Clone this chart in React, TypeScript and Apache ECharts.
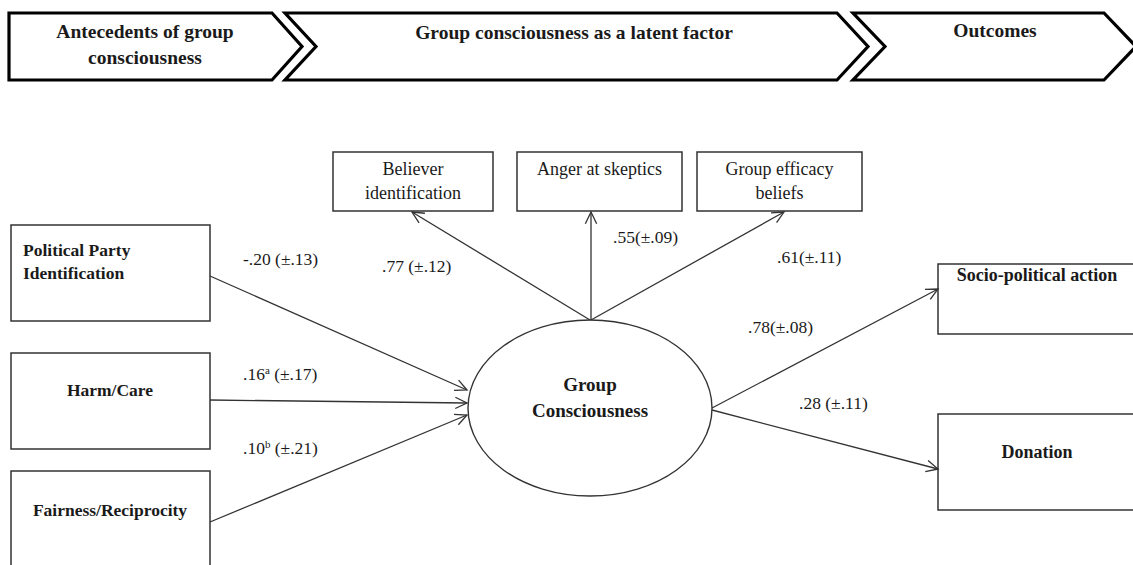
import React, { useEffect, useRef } from "react";
import * as echarts from "echarts";

const WIDTH = 1133;
const HEIGHT = 565;
const FONT = "Liberation Serif";

// ---------- content ----------
const stageTitles = ["Antecedents of group\nconsciousness", "Group consciousness as a latent factor", "Outcomes"];
const antecedentNames = ["Political Party\nIdentification", "Harm/Care", "Fairness/Reciprocity"];
const indicatorNames = ["Believer\nidentification", "Anger at skeptics", "Group efficacy\nbeliefs"];
const latentName = "Group\nConsciousness";
const outcomeNames = ["Socio-political action", "Donation"];
const antecedentBetas = ["-.20", ".16", ".10"];
const antecedentNotes = ["", "a", "b"];
const antecedentCIs = [" (±.13)", " (±.17)", " (±.21)"];
const loadingLabels = [".77 (±.12)", ".55(±.09)", ".61(±.11)"];
const outcomeLabels = [".78(±.08)", ".28 (±.11)"];

// ---------- layout (pixel-like data units on hidden axes) ----------
const stagePolygons = [
  [[9, 13], [272, 13], [302, 46.5], [272, 80], [9, 80]],
  [[285, 13], [837, 13], [868, 46.5], [837, 80], [285, 80], [316, 46.5]],
  [[853, 13], [1104, 13], [1136, 46.5], [1104, 80], [853, 80], [885, 46.5]],
];
const stageTextPos = [[145, 31], [574, 32], [995, 30]];

const antecedentRects = [[11, 225, 199, 96], [11, 353, 199, 96], [11, 471, 199, 130]];
const antecedentTextPos = [[23, 250, "left"], [110, 390, "center"], [110, 510, "center"]];
const indicatorRects = [[333, 152, 160, 59], [517, 152, 165, 59], [697, 152, 165, 59]];
const indicatorTextPos = [[413, 169], [599.5, 169], [779.5, 169]];
const outcomeRects = [[938, 264, 215, 70], [938, 414, 215, 96]];
const outcomeTextPos = [[1037, 275], [1037, 452]];
const latentEllipse = [590, 408, 122, 88];
const latentTextPos = [590, 384];

const antecedentPaths = [[[210, 276], [467, 390]], [[210, 400], [467, 403]], [[210, 522], [467, 415]]];
const loadingPaths = [[[590, 320], [412, 212]], [[591, 320], [591, 212]], [[591, 320], [784, 212]]];
const outcomePaths = [[[712, 408], [938, 289]], [[712, 410], [938, 469]]];
const antecedentLabelPos = [[243, 259], [243, 374], [243, 448]];
const loadingLabelPos = [[382, 266], [613, 237], [777, 257]];
const outcomeLabelPos = [[748, 327], [799, 403]];

const INK = "#1a1a1a";
const LINE = "#333";

function textEl(api: any, pos: number[], text: string, opts: any) {
  const lh = opts.lineHeight;
  const n = text.split("\n").length;
  const p = api.coord([pos[0], pos[1] + ((n - 1) * lh) / 2]);
  return {
    type: "text",
    x: p[0],
    y: p[1],
    style: {
      text,
      fontFamily: FONT,
      fontSize: opts.fontSize,
      fontWeight: opts.fontWeight || "normal",
      fill: INK,
      align: opts.align || "center",
      verticalAlign: "middle",
      lineHeight: lh,
    },
  };
}

function rectEl(api: any, r: number[]) {
  const p = api.coord([r[0], r[1]]);
  const s = api.size([r[2], r[3]]);
  return {
    type: "rect",
    shape: { x: p[0], y: p[1], width: s[0], height: s[1] },
    style: { fill: "#fff", stroke: LINE, lineWidth: 1.5 },
  };
}

function arrowEls(api: any, path: number[][]) {
  const a = api.coord(path[0]);
  const b = api.coord(path[1]);
  const ang = Math.atan2(b[1] - a[1], b[0] - a[0]);
  const L = 13;
  const th = 0.45;
  const p1 = [b[0] - L * Math.cos(ang - th), b[1] - L * Math.sin(ang - th)];
  const p2 = [b[0] - L * Math.cos(ang + th), b[1] - L * Math.sin(ang + th)];
  return [
    { type: "line", shape: { x1: a[0], y1: a[1], x2: b[0], y2: b[1] }, style: { stroke: LINE, lineWidth: 1.3 } },
    { type: "polyline", shape: { points: [p1, b, p2] }, style: { stroke: LINE, lineWidth: 1.3, fill: "none" } },
  ];
}

function buildOption() {
  const stageSeries = {
    type: "custom",
    name: "stages",
    data: stageTitles.map((_, i) => [i, 0]),
    renderItem: (params: any, api: any) => {
      const i = params.dataIndex;
      const pts = stagePolygons[i].map((q) => api.coord(q));
      return {
        type: "group",
        children: [
          { type: "polygon", shape: { points: pts }, style: { fill: "#fff", stroke: "#000", lineWidth: 3.2, lineJoin: "miter" } },
          textEl(api, stageTextPos[i], stageTitles[i], { fontSize: 19.5, fontWeight: "bold", lineHeight: 26 }),
        ],
      };
    },
  };

  const antecedentSeries = {
    type: "custom",
    name: "antecedents",
    data: antecedentNames.map((_, i) => [i, 0]),
    renderItem: (params: any, api: any) => {
      const i = params.dataIndex;
      const tp = antecedentTextPos[i] as any[];
      return {
        type: "group",
        children: [
          rectEl(api, antecedentRects[i]),
          textEl(api, [tp[0], tp[1]], antecedentNames[i], { fontSize: 17.5, fontWeight: "bold", lineHeight: 23, align: tp[2] }),
        ],
      };
    },
  };

  const indicatorSeries = {
    type: "custom",
    name: "indicators",
    data: indicatorNames.map((_, i) => [i, 0]),
    renderItem: (params: any, api: any) => {
      const i = params.dataIndex;
      return {
        type: "group",
        children: [
          rectEl(api, indicatorRects[i]),
          textEl(api, indicatorTextPos[i], indicatorNames[i], { fontSize: 18, lineHeight: 24 }),
        ],
      };
    },
  };

  const outcomeSeries = {
    type: "custom",
    name: "outcomes",
    data: outcomeNames.map((_, i) => [i, 0]),
    renderItem: (params: any, api: any) => {
      const i = params.dataIndex;
      return {
        type: "group",
        children: [
          rectEl(api, outcomeRects[i]),
          textEl(api, outcomeTextPos[i], outcomeNames[i], { fontSize: 18, fontWeight: "bold", lineHeight: 24 }),
        ],
      };
    },
  };

  const latentSeries = {
    type: "custom",
    name: "latent",
    data: [[0, 0]],
    renderItem: (_params: any, api: any) => {
      const c = api.coord([latentEllipse[0], latentEllipse[1]]);
      const s = api.size([latentEllipse[2], latentEllipse[3]]);
      return {
        type: "group",
        children: [
          { type: "ellipse", shape: { cx: c[0], cy: c[1], rx: s[0], ry: s[1] }, style: { fill: "#fff", stroke: LINE, lineWidth: 1.4 } },
          textEl(api, latentTextPos, latentName, { fontSize: 19, fontWeight: "bold", lineHeight: 26 }),
        ],
      };
    },
  };

  const allPaths = [...antecedentPaths, ...loadingPaths, ...outcomePaths];
  const pathSeries = {
    type: "custom",
    name: "paths",
    data: allPaths.map((_, i) => [i, 0]),
    renderItem: (params: any, api: any) => ({ type: "group", children: arrowEls(api, allPaths[params.dataIndex]) }),
  };

  const plainLabels = [...loadingLabels, ...outcomeLabels];
  const plainLabelPos = [...loadingLabelPos, ...outcomeLabelPos];
  const coefSeries = {
    type: "custom",
    name: "coefficients",
    data: plainLabels.map((_, i) => [i, 0]),
    renderItem: (params: any, api: any) => {
      const i = params.dataIndex;
      return textEl(api, plainLabelPos[i], plainLabels[i], { fontSize: 17.5, lineHeight: 20, align: "left" });
    },
  };

  const betaSeries = {
    type: "custom",
    name: "betas",
    data: antecedentBetas.map((_, i) => [i, 0]),
    renderItem: (params: any, api: any) => {
      const i = params.dataIndex;
      const p = api.coord(antecedentLabelPos[i]);
      const note = antecedentNotes[i];
      const text = `{n|${antecedentBetas[i]}}` + (note ? `{s|${note}}` : "") + `{n|${antecedentCIs[i]}}`;
      return {
        type: "text",
        x: p[0],
        y: p[1],
        style: {
          text,
          align: "left",
          verticalAlign: "middle",
          fontFamily: FONT,
          fontSize: 17.5,
          fill: INK,
          rich: {
            n: { fontFamily: FONT, fontSize: 17.5, fill: INK, lineHeight: 20, verticalAlign: "middle" },
            s: { fontFamily: FONT, fontSize: 11, fill: INK, lineHeight: 20, verticalAlign: "top" },
          },
        },
      };
    },
  };

  return {
    animation: false,
    backgroundColor: "#fff",
    grid: { left: 0, right: 0, top: 0, bottom: 0, containLabel: false },
    xAxis: { type: "value", min: 0, max: WIDTH, show: false },
    yAxis: { type: "value", min: 0, max: HEIGHT, inverse: true, show: false },
    tooltip: { show: false },
    series: [stageSeries, antecedentSeries, indicatorSeries, outcomeSeries, latentSeries, pathSeries, coefSeries, betaSeries],
  };
}

export default function App() {
  const ref = useRef<HTMLDivElement>(null);
  useEffect(() => {
    if (!ref.current) return;
    const chart = echarts.init(ref.current, null, { renderer: "svg" });
    chart.setOption(buildOption() as any);
    return () => chart.dispose();
  }, []);
  return (
    <div
      ref={ref}
      style={{ position: "absolute", left: 0, top: 0, width: WIDTH, height: HEIGHT, background: "#fff" }}
    />
  );
}
